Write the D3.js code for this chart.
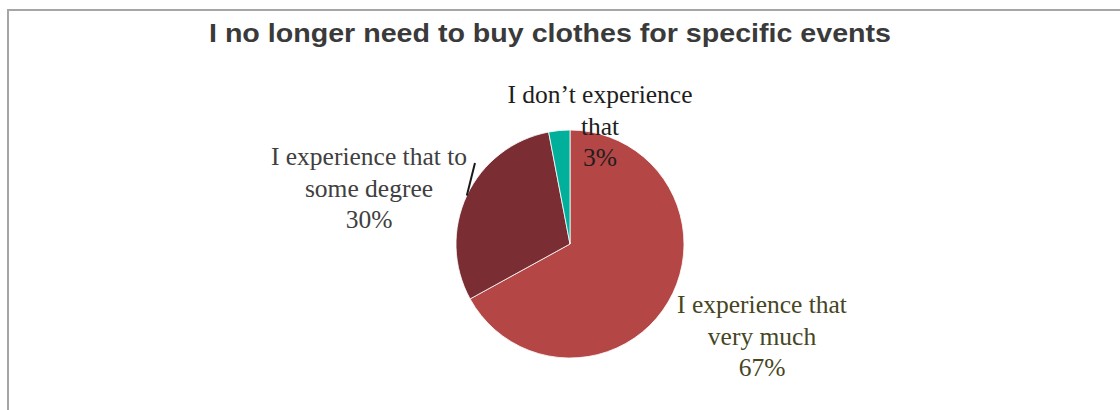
<!DOCTYPE html>
<html>
<head>
<meta charset="utf-8">
<script src="https://cdn.jsdelivr.net/npm/d3@7"></script>
<style>
  html, body { margin: 0; padding: 0; background: #fff; }
  svg { display: block; }
</style>
</head>
<body>
<svg id="chart" width="1120" height="410"></svg>
<script>
// Survey answers, in drawing order (clockwise from 12 o'clock)
const categories = [
  "I experience that very much",
  "I experience that to some degree",
  "I don\u2019t experience that"
];
const values = [67, 30, 3];
const labelLines = [
  ["I experience that", "very much", "67%"],
  ["I experience that to", "some degree", "30%"],
  ["I don\u2019t experience", "that", "3%"]
];
const titleText = "I no longer need to buy clothes for specific events";

// Styling and layout
const sliceColors = ["#B44646", "#7A2D33", "#00B09B"];
const labelColors = ["#46461f", "#404040", "#1e1e1e"];
const cx = 570, cy = 244, radius = 114;
const labelAnchors = [ [762, 313], [369, 165], [600, 103] ];
const lineStep = 31.5;

const svg = d3.select("#chart");

// Chart frame (top and left edges visible)
svg.append("path")
  .attr("d", "M8,410 L8,10 L1120,10")
  .attr("fill", "none")
  .attr("stroke", "#a6a6a6")
  .attr("stroke-width", 2);

// Title, stretched slightly wider as in the original layout
svg.append("text")
  .attr("x", 209)
  .attr("y", 42)
  .attr("textLength", 682)
  .attr("lengthAdjust", "spacingAndGlyphs")
  .attr("font-family", "'Liberation Sans', Arial, sans-serif")
  .attr("font-weight", "bold")
  .attr("font-size", 25.5)
  .attr("fill", "#3a3a3a")
  .text(titleText);

const data = categories.map((c, i) => ({ category: c, value: values[i], index: i }));

const pie = d3.pie()
  .sort(null)
  .value(d => d.value)
  .startAngle(0)
  .endAngle(2 * Math.PI);

const arc = d3.arc().innerRadius(0).outerRadius(radius);
const arcs = pie(data);

const g = svg.append("g").attr("transform", `translate(${cx},${cy})`);

g.selectAll("path.slice")
  .data(arcs)
  .join("path")
  .attr("class", "slice")
  .attr("d", arc)
  .attr("fill", d => sliceColors[d.data.index])
  .attr("stroke", "#ffffff")
  .attr("stroke-width", 0.8);

// Leader line from the 30% slice edge to its label
const mid = a => (a.startAngle + a.endAngle) / 2;
const edgePoint = (a, r) => [Math.sin(mid(a)) * r, -Math.cos(mid(a)) * r];
const degreeArc = arcs[1];
const [ex, ey] = edgePoint(degreeArc, radius);
svg.append("line")
  .attr("x1", cx + ex)
  .attr("y1", cy + ey)
  .attr("x2", 475)
  .attr("y2", 163)
  .attr("stroke", "#1a1a1a")
  .attr("stroke-width", 2);

// Data labels
arcs.forEach(a => {
  const i = a.data.index;
  const [lx, ly] = labelAnchors[i];
  const t = svg.append("text")
    .attr("text-anchor", "middle")
    .attr("font-family", "'Liberation Serif', 'Times New Roman', serif")
    .attr("font-size", 25.5)
    .attr("fill", labelColors[i]);
  labelLines[i].forEach((line, k) => {
    t.append("tspan")
      .attr("x", lx)
      .attr("y", ly + k * lineStep)
      .text(line);
  });
});
</script>
</body>
</html>
